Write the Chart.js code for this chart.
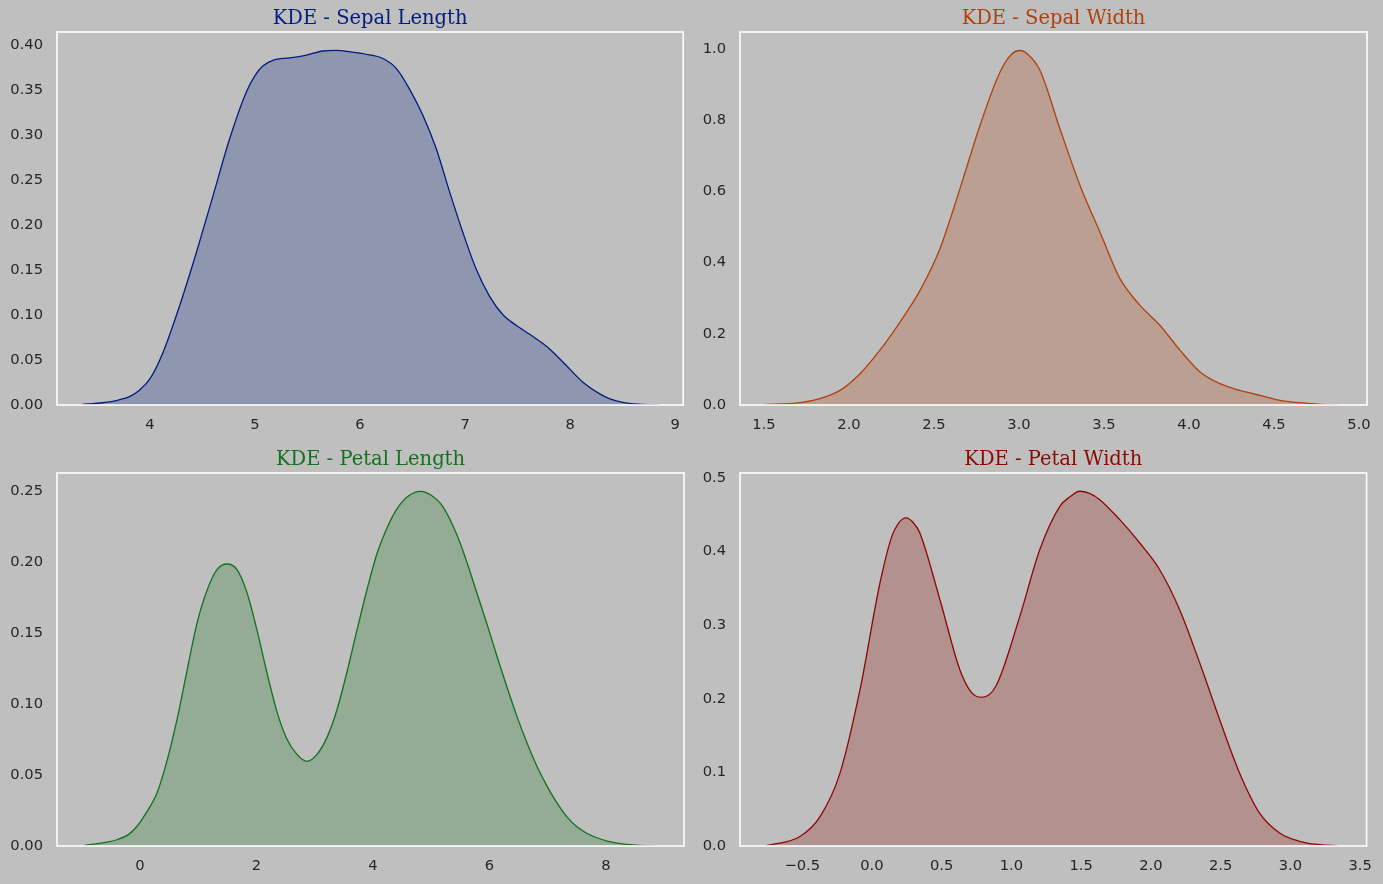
<!DOCTYPE html>
<html>
<head>
<meta charset="utf-8">
<script src="https://cdn.jsdelivr.net/npm/chart.js@4.4.0/dist/chart.umd.min.js"></script>
<style>
  body { margin: 0; background: #bfbfbf; }
  #wrap { position: relative; width: 1383px; height: 884px; background: #bfbfbf; }
  canvas { position: absolute; }
</style>
</head>
<body>
<div id="wrap">
  <canvas id="c1" width="691" height="441" style="left:0px;top:0px"></canvas>
  <canvas id="c2" width="692" height="441" style="left:691px;top:0px"></canvas>
  <canvas id="c3" width="691" height="443" style="left:0px;top:441px"></canvas>
  <canvas id="c4" width="692" height="443" style="left:691px;top:441px"></canvas>
</div>
<script>
const sepalLengthX = [3.35, 3.55, 3.7, 3.81, 3.9, 4.0, 4.127, 4.285, 4.444, 4.60, 4.76, 4.919, 5.0, 5.077, 5.172, 5.331, 5.457, 5.647, 5.775, 5.90, 6.091, 6.218, 6.345, 6.471, 6.598, 6.725, 6.852, 6.978, 7.105, 7.232, 7.358, 7.486, 7.676, 7.802, 7.961, 8.119, 8.278, 8.373, 8.5, 8.65, 8.85];
const sepalLengthY = [0.0005, 0.0025, 0.0055, 0.0095, 0.0165, 0.029, 0.059, 0.111, 0.170, 0.232, 0.296, 0.348, 0.366, 0.377, 0.383, 0.3856, 0.3878, 0.3933, 0.394, 0.3925, 0.389, 0.385, 0.374, 0.351, 0.322, 0.285, 0.237, 0.192, 0.151, 0.121, 0.1005, 0.0885, 0.0737, 0.0626, 0.0441, 0.0256, 0.0126, 0.007, 0.003, 0.001, 0.0002];

const sepalWidthX = [1.50, 1.712, 1.829, 1.947, 2.065, 2.182, 2.3, 2.418, 2.535, 2.653, 2.771, 2.888, 2.959, 3.006, 3.053, 3.124, 3.241, 3.359, 3.476, 3.594, 3.712, 3.829, 3.947, 4.065, 4.182, 4.3, 4.418, 4.535, 4.653, 4.77, 4.88];
const sepalWidthY = [0.001, 0.0065, 0.018, 0.041, 0.088, 0.154, 0.233, 0.322, 0.439, 0.608, 0.786, 0.935, 0.987, 0.996, 0.985, 0.940, 0.776, 0.617, 0.486, 0.355, 0.280, 0.224, 0.154, 0.093, 0.060, 0.041, 0.027, 0.013, 0.0065, 0.002, 0.0005];

const petalLengthX = [-0.95, -0.6, -0.395, -0.2, -0.05, 0.1, 0.292, 0.45, 0.635, 0.8, 0.979, 1.15, 1.322, 1.494, 1.665, 1.84, 2.009, 2.18, 2.352, 2.52, 2.695, 2.867, 3.038, 3.21, 3.382, 3.55, 3.725, 3.9, 4.069, 4.24, 4.412, 4.62, 4.824, 5.0, 5.2, 5.442, 5.62, 5.785, 5.96, 6.129, 6.3, 6.472, 6.64, 6.815, 6.99, 7.159, 7.33, 7.502, 7.67, 7.845, 8.02, 8.189, 8.53, 8.85];
const petalLengthY = [0.0005, 0.0025, 0.0044, 0.008, 0.0139, 0.023, 0.0373, 0.058, 0.089, 0.122, 0.157, 0.180, 0.1946, 0.1986, 0.1946, 0.178, 0.152, 0.122, 0.0945, 0.0755, 0.0645, 0.0596, 0.0645, 0.0765, 0.096, 0.122, 0.152, 0.181, 0.206, 0.224, 0.2375, 0.2468, 0.2498, 0.2470, 0.239, 0.219, 0.199, 0.178, 0.156, 0.1336, 0.112, 0.0913, 0.073, 0.0561, 0.042, 0.0303, 0.0205, 0.0135, 0.009, 0.0058, 0.0035, 0.0021, 0.0006, 0.0001];

const petalWidthX = [-0.76, -0.73, -0.516, -0.372, -0.229, -0.086, 0.057, 0.143, 0.19, 0.244, 0.30, 0.344, 0.487, 0.630, 0.716, 0.788, 0.888, 1.06, 1.203, 1.347, 1.42, 1.49, 1.56, 1.633, 1.777, 1.92, 2.063, 2.206, 2.35, 2.493, 2.636, 2.779, 2.923, 3.066, 3.209, 3.34];
const petalWidthY = [0.0005, 0.0015, 0.013, 0.040, 0.099, 0.212, 0.357, 0.421, 0.4385, 0.4457, 0.4385, 0.425, 0.335, 0.2396, 0.208, 0.202, 0.217, 0.312, 0.4026, 0.4615, 0.4745, 0.482, 0.479, 0.4706, 0.4434, 0.4117, 0.3754, 0.321, 0.2486, 0.1716, 0.099, 0.0448, 0.0177, 0.0063, 0.0018, 0.0003];

// ticks
const ticksX1 = [4, 5, 6, 7, 8, 9];
const ticksY1 = [0, 0.05, 0.10, 0.15, 0.20, 0.25, 0.30, 0.35, 0.40];
const ticksX2 = [1.5, 2.0, 2.5, 3.0, 3.5, 4.0, 4.5, 5.0];
const ticksY2 = [0, 0.2, 0.4, 0.6, 0.8, 1.0];
const ticksX3 = [0, 2, 4, 6, 8];
const ticksY3 = [0, 0.05, 0.10, 0.15, 0.20, 0.25];
const ticksX4 = [-0.5, 0.0, 0.5, 1.0, 1.5, 2.0, 2.5, 3.0, 3.5];
const ticksY4 = [0, 0.1, 0.2, 0.3, 0.4, 0.5];

Chart.defaults.font.family = "'DejaVu Sans'";
Chart.defaults.font.size = 14.7;
Chart.defaults.color = "#262626";

// moldura branca em volta da area do grafico
const moldura = {
  id: "moldura",
  afterDatasetsDraw(chart) {
    const a = chart.chartArea;
    const ctx = chart.ctx;
    ctx.save();
    ctx.strokeStyle = "#ffffff";
    ctx.lineWidth = 1.6;
    ctx.strokeRect(a.left, a.top, a.right - a.left, a.bottom - a.top);
    ctx.restore();
  },
};

function fmt(v, dec) {
  return v.toFixed(dec).replace("-", "\u2212");
}

function criarGrafico(id, titulo, cor, fundo, xs, ys, cfg) {
  const pontos = xs.map((x, i) => ({ x: x, y: ys[i] }));
  return new Chart(document.getElementById(id), {
    type: "line",
    data: {
      datasets: [
        {
          data: pontos,
          borderColor: cor,
          backgroundColor: fundo,
          borderWidth: 1.3,
          fill: "origin",
          pointRadius: 0,
          cubicInterpolationMode: "monotone",
        },
      ],
    },
    options: {
      responsive: false,
      animation: false,
      devicePixelRatio: 1,
      layout: { padding: { left: 0, right: cfg.padRight, top: 0, bottom: 0 } },
      plugins: {
        legend: { display: false },
        tooltip: { enabled: false },
        title: {
          display: true,
          text: titulo,
          color: cor,
          fullSize: false,
          font: { family: "'DejaVu Serif'", size: 19.5, weight: "normal", lineHeight: 1.2 },
          padding: { top: 7.3, bottom: 1.3 },
        },
      },
      scales: {
        x: {
          type: "linear",
          min: cfg.xmin,
          max: cfg.xmax,
          grid: { display: false, drawTicks: false },
          border: { display: false },
          ticks: { padding: 11, maxRotation: 0, autoSkip: false, callback: (v) => fmt(v, cfg.xdec) },
          afterBuildTicks: (s) => { s.ticks = cfg.xticks.map((v) => ({ value: v })); },
          afterFit: (s) => { s.height = cfg.xh; },
        },
        y: {
          type: "linear",
          min: 0,
          max: cfg.ymax,
          grid: { display: false, drawTicks: false },
          border: { display: false },
          ticks: { padding: 14, autoSkip: false, callback: (v) => fmt(v, cfg.ydec) },
          afterBuildTicks: (s) => { s.ticks = cfg.yticks.map((v) => ({ value: v })); },
          afterFit: (s) => { s.width = cfg.yw; },
        },
      },
    },
    plugins: [moldura],
  });
}

criarGrafico("c1", "KDE - Sepal Length", "#001c7f", "rgba(0,28,127,0.25)", sepalLengthX, sepalLengthY,
  { xmin: 3.116, xmax: 9.076, ymax: 0.4144, xticks: ticksX1, yticks: ticksY1, xdec: 0, ydec: 2, yw: 57, xh: 36, padRight: 7 });

criarGrafico("c2", "KDE - Sepal Width", "#b1400d", "rgba(177,64,13,0.25)", sepalWidthX, sepalWidthY,
  { xmin: 1.359, xmax: 5.047, ymax: 1.048, xticks: ticksX2, yticks: ticksY2, xdec: 1, ydec: 1, yw: 49, xh: 36, padRight: 16 });

criarGrafico("c3", "KDE - Petal Length", "#12711c", "rgba(18,113,28,0.25)", petalLengthX, petalLengthY,
  { xmin: -1.425, xmax: 9.34, ymax: 0.2627, xticks: ticksX3, yticks: ticksY3, xdec: 0, ydec: 2, yw: 57, xh: 38, padRight: 7 });

criarGrafico("c4", "KDE - Petal Width", "#8c0800", "rgba(140,8,0,0.25)", petalWidthX, petalWidthY,
  { xmin: -0.946, xmax: 3.546, ymax: 0.5068, xticks: ticksX4, yticks: ticksY4, xdec: 1, ydec: 1, yw: 49, xh: 38, padRight: 16 });
</script>
</body>
</html>
